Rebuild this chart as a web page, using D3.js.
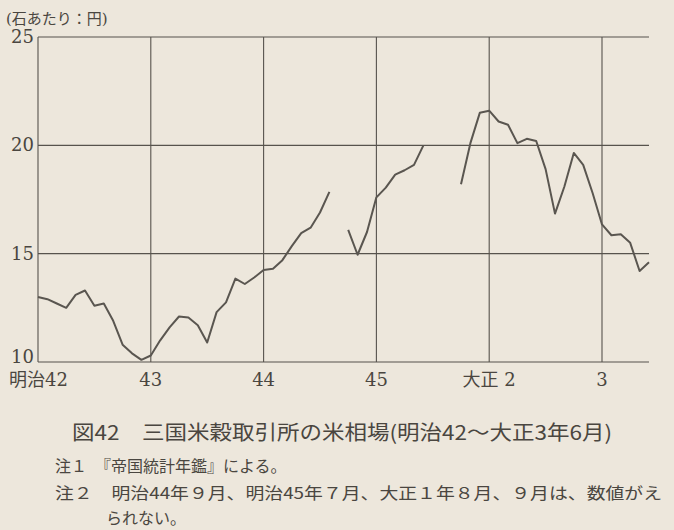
<!DOCTYPE html>
<html>
<head>
<meta charset="utf-8">
<script src="https://cdn.jsdelivr.net/npm/d3@7"></script>
<style>
  body { margin: 0; background: #ede7dc; }
  svg { display: block; }
</style>
</head>
<body>
<svg id="chart" width="674" height="530"></svg>
<script>
// monthly price, Jan 明治42 (index 0) .. Jun 大正3 (index 65); null = no data
const prices = [
  13.0, 12.9, 12.7, 12.5, 13.1, 13.3, 12.6, 12.7, 11.9, 10.8, 10.4, 10.1,
  10.3, 11.0, 11.6, 12.1, 12.05, 11.7, 10.9, 12.3, 12.75, 13.85, 13.6, 13.9,
  14.25, 14.3, 14.7, 15.35, 15.95, 16.2, 16.9, 17.85, null, 16.1, 14.95, 16.0,
  17.6, 18.05, 18.65, 18.85, 19.1, 20.0, null, null, null, 18.2, 20.1, 21.5,
  21.6, 21.1, 20.95, 20.1, 20.3, 20.2, 18.9, 16.85, 18.1, 19.65, 19.1, 17.8,
  16.35, 15.85, 15.9, 15.5, 14.2, 14.6
];
const yearTicks = [0, 12, 24, 36, 48, 60];
const yearLabels = ['明治42', '43', '44', '45', '大正 2', '3'];
const yTicks = [10, 15, 20, 25];

const SERIF = "DejaVu Serif, Liberation Serif, Noto Sans CJK JP, serif";
const JP = "Noto Sans CJK JP, sans-serif";

const svg = d3.select('#chart');
const ink = '#57534d';
const textInk = '#4a4640';

const x = d3.scaleLinear().domain([0, 65]).range([38, 649]);
const y = d3.scaleLinear().domain([10, 25]).range([362, 37]);

// horizontal grid
svg.append('g')
  .selectAll('line')
  .data(yTicks)
  .join('line')
  .attr('x1', x(0)).attr('x2', x(65))
  .attr('y1', (d) => y(d)).attr('y2', (d) => y(d))
  .attr('stroke', ink).attr('stroke-width', 1.1);

// vertical grid (years)
svg.append('g')
  .selectAll('line')
  .data(yearTicks)
  .join('line')
  .attr('x1', (d) => x(d)).attr('x2', (d) => x(d))
  .attr('y1', y(25)).attr('y2', y(10))
  .attr('stroke', ink).attr('stroke-width', 1.1);

// y labels
svg.append('g')
  .selectAll('text')
  .data(yTicks)
  .join('text')
  .style('font-family', SERIF)
  .attr('x', 34)
  .attr('y', (d) => y(d) + (d === 10 ? 1 : 6))
  .attr('text-anchor', 'end')
  .attr('font-size', 18)
  .attr('fill', textInk)
  .text((d) => d);

// x labels
svg.append('g')
  .selectAll('text')
  .data(yearTicks)
  .join('text')
  .style('font-family', SERIF)
  .attr('x', (d, i) => (i === 0 ? 9 : x(d)))
  .attr('y', 386)
  .attr('text-anchor', (d, i) => (i === 0 ? 'start' : 'middle'))
  .attr('font-size', 18)
  .attr('fill', textInk)
  .text((d, i) => yearLabels[i]);

svg.append('text')
  .style('font-family', SERIF)
  .attr('x', 6).attr('y', 24)
  .attr('font-size', 15)
  .attr('fill', textInk)
  .text('(石あたり：円)');

// price line with gaps
const line = d3.line()
  .defined((d) => d != null)
  .x((d, i) => x(i))
  .y((d) => y(d));

svg.append('path')
  .datum(prices)
  .attr('d', line)
  .attr('fill', 'none')
  .attr('stroke', '#5a5650')
  .attr('stroke-width', 2)
  .attr('stroke-linejoin', 'round');

// caption and notes
svg.append('text')
  .style('font-family', JP)
  .attr('x', 72).attr('y', 440)
  .attr('font-size', 20)
  .attr('fill', textInk)
  .attr('textLength', 540)
  .attr('lengthAdjust', 'spacingAndGlyphs')
  .text('図42　三国米穀取引所の米相場(明治42～大正3年6月)');

const notes = [
  { x: 55, y: 472, t: '注１　『帝国統計年鑑』による。', w: 0 },
  { x: 55, y: 499, t: '注２　明治44年９月、明治45年７月、大正１年８月、９月は、数値がえ', w: 607 },
  { x: 106, y: 524, t: 'られない。', w: 0 }
];
notes.forEach((n) => {
  const t = svg.append('text')
    .style('font-family', JP)
    .attr('x', n.x).attr('y', n.y)
    .attr('font-size', 16)
    .attr('fill', textInk)
    .text(n.t);
  if (n.w) t.attr('textLength', n.w).attr('lengthAdjust', 'spacingAndGlyphs');
});
</script>
</body>
</html>
